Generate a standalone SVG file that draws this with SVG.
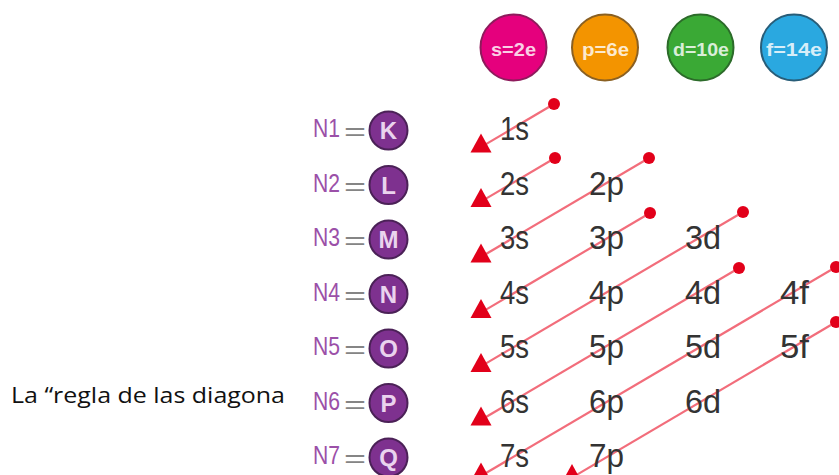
<svg xmlns="http://www.w3.org/2000/svg" width="839" height="475" viewBox="0 0 839 475">
<style>
.bg{fill:#fff}
.top{stroke-width:2}
.toptxt{font-family:"Liberation Sans",Arial,sans-serif;font-weight:bold;font-size:19px;fill:#fff;fill-opacity:.82;text-anchor:start}
.pc{fill:#7e318f;stroke:#4b2157;stroke-width:2}
.pl{font-family:"Liberation Sans",Arial,sans-serif;font-weight:bold;font-size:24px;fill:#ead3ee;text-anchor:middle}
.nl{font-family:"Liberation Sans",Arial,sans-serif;font-size:25px;fill:#9b50a8}
.eq{font-family:"Liberation Sans",Arial,sans-serif;font-size:25px;fill:#858585}
.orb{font-family:"Liberation Sans",Arial,sans-serif;font-size:34px;fill:#333}
.cap{font-family:"Open Sans","Liberation Sans",Arial,sans-serif;font-size:22px;fill:#111}
.ln{stroke:#f26d7b;stroke-width:2.2;fill:none;marker-start:url(#tri);marker-end:url(#dot)}
</style>
<defs>
<marker id="tri" markerUnits="userSpaceOnUse" viewBox="0 0 21 19" markerWidth="21" markerHeight="19" refX="15.5" refY="10.5" orient="0" overflow="visible">
<polygon points="10.5,0 0,19 21,19" fill="#e2001a"/>
</marker>
<marker id="dot" markerUnits="userSpaceOnUse" viewBox="0 0 12 12" markerWidth="12" markerHeight="12" refX="6" refY="6" overflow="visible">
<circle cx="6" cy="6" r="6" fill="#e2001a"/>
</marker>
</defs>
<rect class="bg" x="0" y="0" width="839" height="475"/>

<text id="caption" class="cap" x="11" y="403" textLength="274" lengthAdjust="spacingAndGlyphs">La “regla de las diagona</text>

<g id="connectors">
<path class="ln" d="M486,144.1 L554,104"/>
<path class="ln" d="M486,198.6 L555,158"/>
<path class="ln" d="M486,254 L649,158"/>
<path class="ln" d="M486,309.6 L650,213"/>
<path class="ln" d="M486,363.4 L743,212"/>
<path class="ln" d="M486,417 L739,268"/>
<path class="ln" d="M486,473 L836,267"/>
<path class="ln" d="M577,474.6 L836,322"/>
</g>

<g id="type-s"><circle class="top" cx="513.5" cy="47.5" r="33" fill="#e5007d" stroke="#8e1b5c"/><text class="toptxt" x="491" y="56" textLength="45" lengthAdjust="spacingAndGlyphs">s=2e</text></g>
<g id="type-p"><circle class="top" cx="605" cy="47.5" r="33" fill="#f39400" stroke="#8a6022"/><text class="toptxt" x="582" y="56" textLength="47" lengthAdjust="spacingAndGlyphs">p=6e</text></g>
<g id="type-d"><circle class="top" cx="700.5" cy="47.5" r="33" fill="#3aa935" stroke="#2c6b2a"/><text class="toptxt" x="673" y="56" textLength="56" lengthAdjust="spacingAndGlyphs">d=10e</text></g>
<g id="type-f"><circle class="top" cx="794" cy="47.5" r="33" fill="#2aa8e0" stroke="#285d78"/><text class="toptxt" x="766" y="56" textLength="56" lengthAdjust="spacingAndGlyphs">f=14e</text></g>

<g id="shell-K"><text class="nl" x="313" y="137" textLength="27" lengthAdjust="spacingAndGlyphs">N1</text><text class="eq" x="344" y="140" textLength="22" lengthAdjust="spacingAndGlyphs">=</text><circle class="pc" cx="388.5" cy="130.5" r="19"/><text class="pl" x="388.5" y="139">K</text></g>
<g id="shell-L"><text class="nl" x="313" y="191.5" textLength="27" lengthAdjust="spacingAndGlyphs">N2</text><text class="eq" x="344" y="194.5" textLength="22" lengthAdjust="spacingAndGlyphs">=</text><circle class="pc" cx="388.5" cy="185" r="19"/><text class="pl" x="388.5" y="193.5">L</text></g>
<g id="shell-M"><text class="nl" x="313" y="246" textLength="27" lengthAdjust="spacingAndGlyphs">N3</text><text class="eq" x="344" y="249" textLength="22" lengthAdjust="spacingAndGlyphs">=</text><circle class="pc" cx="388.5" cy="239.5" r="19"/><text class="pl" x="388.5" y="248">M</text></g>
<g id="shell-N"><text class="nl" x="313" y="300.5" textLength="27" lengthAdjust="spacingAndGlyphs">N4</text><text class="eq" x="344" y="303.5" textLength="22" lengthAdjust="spacingAndGlyphs">=</text><circle class="pc" cx="388.5" cy="294" r="19"/><text class="pl" x="388.5" y="302.5">N</text></g>
<g id="shell-O"><text class="nl" x="313" y="355" textLength="27" lengthAdjust="spacingAndGlyphs">N5</text><text class="eq" x="344" y="358" textLength="22" lengthAdjust="spacingAndGlyphs">=</text><circle class="pc" cx="388.5" cy="348.5" r="19"/><text class="pl" x="388.5" y="357">O</text></g>
<g id="shell-P"><text class="nl" x="313" y="409.5" textLength="27" lengthAdjust="spacingAndGlyphs">N6</text><text class="eq" x="344" y="412.5" textLength="22" lengthAdjust="spacingAndGlyphs">=</text><circle class="pc" cx="388.5" cy="403" r="19"/><text class="pl" x="388.5" y="411.5">P</text></g>
<g id="shell-Q"><text class="nl" x="313" y="464" textLength="27" lengthAdjust="spacingAndGlyphs">N7</text><text class="eq" x="344" y="467" textLength="22" lengthAdjust="spacingAndGlyphs">=</text><circle class="pc" cx="388.5" cy="457.5" r="19"/><text class="pl" x="388.5" y="466">Q</text></g>

<g id="o1s"><text class="orb" x="500" y="140" textLength="29" lengthAdjust="spacingAndGlyphs">1s</text></g>
<g id="o2s"><text class="orb" x="500" y="194.5" textLength="29" lengthAdjust="spacingAndGlyphs">2s</text></g>
<g id="o2p"><text class="orb" x="589" y="194.5" textLength="35" lengthAdjust="spacingAndGlyphs">2p</text></g>
<g id="o3s"><text class="orb" x="500" y="249" textLength="29" lengthAdjust="spacingAndGlyphs">3s</text></g>
<g id="o3p"><text class="orb" x="589" y="249" textLength="35" lengthAdjust="spacingAndGlyphs">3p</text></g>
<g id="o3d"><text class="orb" x="685" y="249" textLength="36" lengthAdjust="spacingAndGlyphs">3d</text></g>
<g id="o4s"><text class="orb" x="500" y="303.5" textLength="29" lengthAdjust="spacingAndGlyphs">4s</text></g>
<g id="o4p"><text class="orb" x="589" y="303.5" textLength="35" lengthAdjust="spacingAndGlyphs">4p</text></g>
<g id="o4d"><text class="orb" x="685" y="303.5" textLength="36" lengthAdjust="spacingAndGlyphs">4d</text></g>
<g id="o4f"><text class="orb" x="780" y="303.5" textLength="29" lengthAdjust="spacingAndGlyphs">4f</text></g>
<g id="o5s"><text class="orb" x="500" y="358" textLength="29" lengthAdjust="spacingAndGlyphs">5s</text></g>
<g id="o5p"><text class="orb" x="589" y="358" textLength="35" lengthAdjust="spacingAndGlyphs">5p</text></g>
<g id="o5d"><text class="orb" x="685" y="358" textLength="36" lengthAdjust="spacingAndGlyphs">5d</text></g>
<g id="o5f"><text class="orb" x="780" y="358" textLength="29" lengthAdjust="spacingAndGlyphs">5f</text></g>
<g id="o6s"><text class="orb" x="500" y="412.5" textLength="29" lengthAdjust="spacingAndGlyphs">6s</text></g>
<g id="o6p"><text class="orb" x="589" y="412.5" textLength="35" lengthAdjust="spacingAndGlyphs">6p</text></g>
<g id="o6d"><text class="orb" x="685" y="412.5" textLength="36" lengthAdjust="spacingAndGlyphs">6d</text></g>
<g id="o7s"><text class="orb" x="500" y="467" textLength="29" lengthAdjust="spacingAndGlyphs">7s</text></g>
<g id="o7p"><text class="orb" x="589" y="467" textLength="35" lengthAdjust="spacingAndGlyphs">7p</text></g>
</svg>
